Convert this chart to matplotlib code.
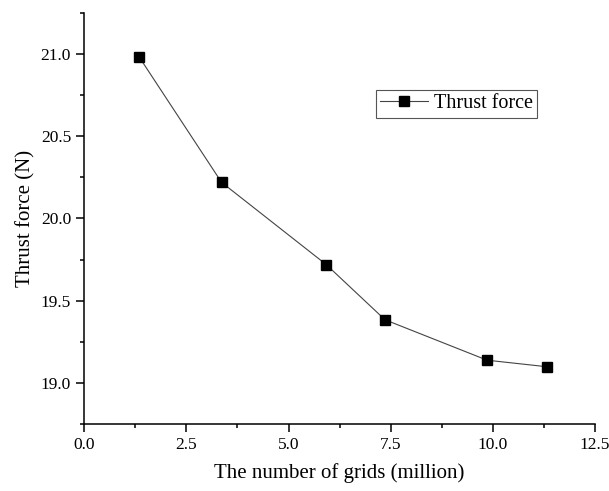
import matplotlib
matplotlib.use("Agg")
from matplotlib import pyplot as plt
from matplotlib.ticker import MultipleLocator

plt.rcParams["font.family"] = ["Liberation Serif", "DejaVu Serif"]

grids = [1.35, 3.36, 5.92, 7.36, 9.86, 11.33]
thrust = [20.98, 20.22, 19.72, 19.384, 19.138, 19.098]

fig = plt.figure(figsize=(6.09, 4.91), dpi=100)
ax = fig.add_axes([0.1384, 0.1365, 0.977 - 0.1384, 0.9735 - 0.1365])

ax.plot(grids, thrust, color="#444444", lw=0.8, marker="s", ms=6.5,
        mfc="black", mec="black", label="Thrust force")

ax.set_xlim(0, 12.5)
ax.set_ylim(18.75, 21.25)
ax.xaxis.set_major_locator(MultipleLocator(2.5))
ax.xaxis.set_minor_locator(MultipleLocator(1.25))
ax.yaxis.set_major_locator(MultipleLocator(0.5))
ax.yaxis.set_minor_locator(MultipleLocator(0.25))
ax.xaxis.set_major_formatter(lambda v, p: f"{v:.1f}")
ax.yaxis.set_major_formatter(lambda v, p: f"{v:.1f}")

for s in ["top", "right"]:
    ax.spines[s].set_visible(False)
for s in ["left", "bottom"]:
    ax.spines[s].set_linewidth(1.1)

ax.tick_params(which="major", direction="out", length=6, width=1.1, labelsize=12.5)
ax.tick_params(which="minor", direction="out", length=3, width=1.1)

ax.set_xlabel("The number of grids (million)", fontsize=15, labelpad=7)
ax.set_ylabel("Thrust force (N)", fontsize=15, labelpad=4)

leg = ax.legend(loc="upper left", bbox_to_anchor=(0.571, 0.813), fontsize=14.5,
                fancybox=False, edgecolor="#555555", framealpha=1,
                handlelength=2.35, borderpad=0.22, handletextpad=0.3,
                borderaxespad=0)
leg.get_frame().set_linewidth(0.8)

fig.savefig("out.png", dpi=100)
